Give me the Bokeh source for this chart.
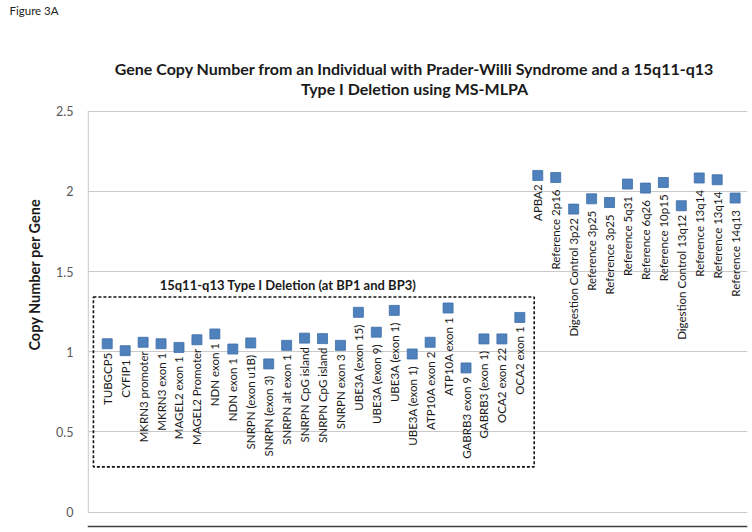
import math
from bokeh.plotting import figure
from bokeh.models import (ColumnDataSource, Label, BoxAnnotation, FixedTicker, Title, Span)
from bokeh.embed import file_html
from bokeh.resources import INLINE
from bokeh.core.properties import value

probes = ["TUBGCP5", "CYFIP1", "MKRN3 promoter", "MKRN3 exon 1", "MAGEL2 exon 1",
          "MAGEL2 Promoter", "NDN exon 1", "NDN exon 1", "SNRPN  (exon u1B)",
          "SNRPN  (exon 3)", "SNRPN alt exon 1", "SNRPN CpG island", "SNRPN CpG island",
          "SNRPN exon 3", "UBE3A  (exon 15)", "UBE3A  (exon 9)", "UBE3A  (exon 1)",
          "UBE3A  (exon 1)", "ATP10A exon 2", "ATP10A exon 1", "GABRB3 exon 9",
          "GABRB3  (exon 1)", "OCA2 exon 22", "OCA2 exon 1", "APBA2", "Reference  2p16",
          "Digestion Control 3p22", "Reference  3p25", "Reference  3p25", "Reference  5q31",
          "Reference  6q26", "Reference  10p15", "Digestion Control 13q12",
          "Reference  13q14", "Reference  13q14", "Reference  14q13"]
copy_number = [1.050, 1.007, 1.059, 1.050, 1.027, 1.075, 1.111, 1.017, 1.055, 0.924,
               1.040, 1.085, 1.082, 1.040, 1.246, 1.122, 1.258, 0.986, 1.059, 1.273,
               0.899, 1.080, 1.080, 1.214, 2.100, 2.087, 1.890, 1.954, 1.931, 2.046,
               2.021, 2.056, 1.911, 2.084, 2.073, 1.959]
position = list(range(1, len(probes) + 1))
deletion_count = 24
y_ticks = [0, 0.5, 1, 1.5, 2, 2.5]
y_tick_labels = {0: "0", 0.5: "0.5", 1: "1", 1.5: "1.5", 2: "2", 2.5: "2.5"}

FONT = "Lato"
DARK = "#1a1a1a"
GRID = "#c9c9c9"

src = ColumnDataSource(dict(x=position, y=copy_number, name=probes))

p = figure(width=751, height=531, output_backend="svg", toolbar_location=None,
           x_range=(-0.1, 36.69), y_range=(-0.1214, 3.0853), x_axis_location=None,
           title=None, min_border_left=87, min_border_right=4,
           min_border_top=0, min_border_bottom=0)
p.outline_line_color = None
p.background_fill_color = "white"

p.xgrid.visible = False
p.ygrid.ticker = FixedTicker(ticks=y_ticks)
p.ygrid.grid_line_color = GRID
p.ygrid.grid_line_width = 1.2

ax = p.yaxis[0]
ax.ticker = FixedTicker(ticks=y_ticks)
ax.major_label_overrides = y_tick_labels
ax.major_tick_line_color = None
ax.minor_tick_line_color = None
ax.axis_line_color = None
ax.major_label_standoff = 8
ax.major_label_text_font = FONT
ax.major_label_text_font_size = "12.5px"
ax.major_label_text_color = "#595959"

# vertical axis line (from 0 to top of the value scale) and bottom rule
p.segment(x0=[-0.06], y0=[y_ticks[0]], x1=[-0.06], y1=[y_ticks[-1]],
          line_color=GRID, line_width=1.2)
p.add_layout(Span(location=-0.0903, dimension="width", line_color="#404040",
                  line_width=1.5))

# dashed box around deletion region
p.add_layout(BoxAnnotation(left=1 - 0.77, right=deletion_count + 0.8, bottom=0.282, top=1.342,
                           fill_color=None, fill_alpha=0, line_color="#111111", line_alpha=1,
                           line_width=1.6, line_dash="3 2"))

p.scatter("x", "y", source=src, marker="square", size=10,
          fill_color="#4F81BD", line_color="#3F6FA8", line_width=0.8)

p.text("x", "y", text="name", source=src, angle=math.pi / 2,
       text_align="right", text_baseline="middle", y_offset=9,
       text_font=value(FONT), text_font_size="11.5px", text_color=DARK)

p.add_layout(Label(x=11.16, y=1.418, text="15q11-q13  Type I Deletion (at BP1 and BP3)",
                   text_align="center", text_baseline="middle", text_font=FONT,
                   text_font_style="bold", text_font_size="13px", text_color=DARK))

p.add_layout(Label(x=18.13, y=2.768,
                   text="Gene Copy Number from an Individual with Prader-Willi Syndrome and a 15q11-q13",
                   text_align="center", text_baseline="middle", text_font=FONT,
                   text_font_style="bold", text_font_size="16px", text_color=DARK))
p.add_layout(Label(x=18.13, y=2.643, text="Type I Deletion using MS-MLPA",
                   text_align="center", text_baseline="middle", text_font=FONT,
                   text_font_style="bold", text_font_size="16px", text_color=DARK))

p.add_layout(Title(text="Figure 3A", align="left", offset=-78, standoff=2,
                   text_font=FONT, text_font_style="normal",
                   text_font_size="11.5px", text_color="#222222"), "above")

p.add_layout(Title(text="Copy Number per Gene", align="center", offset=8, standoff=22,
                   text_font=FONT, text_font_style="bold", text_font_size="14.5px",
                   text_color=DARK), "left")

open("out.html", "w").write(file_html(p, INLINE))
